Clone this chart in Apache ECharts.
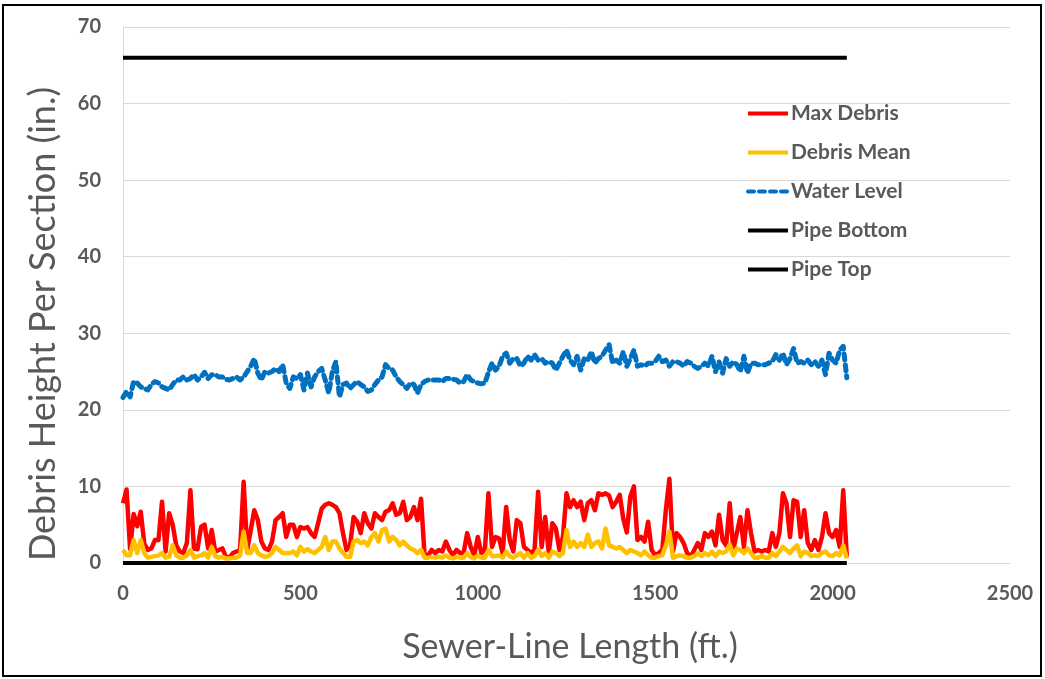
<!DOCTYPE html>
<html>
<head>
<meta charset="utf-8">
<script src="https://cdn.jsdelivr.net/npm/echarts@6.0.0/dist/echarts.min.js"></script>
<style>
html,body{margin:0;padding:0;background:#fff;}
#chart{width:1045px;height:679px;}
</style>
</head>
<body>
<div id="chart"></div>
<script>
// Sewer-line length (ft.) sample positions
const distanceFt = [
0,10,20,30,40,50,60,70,80,90,100,110,120,130,140,150,160,170,180,190,
200,210,220,230,240,250,260,270,280,290,300,310,320,330,340,350,360,370,380,390,
400,410,420,430,440,450,460,470,480,490,500,510,520,530,540,550,560,570,580,590,
600,610,620,630,640,650,660,670,680,690,700,710,720,730,740,750,760,770,780,790,
800,810,820,830,840,850,860,870,880,890,900,910,920,930,940,950,960,970,980,990,
1000,1010,1020,1030,1040,1050,1060,1070,1080,1090,1100,1110,1120,1130,1140,1150,1160,1170,1180,1190,
1200,1210,1220,1230,1240,1250,1260,1270,1280,1290,1300,1310,1320,1330,1340,1350,1360,1370,1380,1390,
1400,1410,1420,1430,1440,1450,1460,1470,1480,1490,1500,1510,1520,1530,1540,1550,1560,1570,1580,1590,
1600,1610,1620,1630,1640,1650,1660,1670,1680,1690,1700,1710,1720,1730,1740,1750,1760,1770,1780,1790,
1800,1810,1820,1830,1840,1850,1860,1870,1880,1890,1900,1910,1920,1930,1940,1950,1960,1970,1980,1990,
2000,2010,2020,2030,2040
];

const maxDebris = [
7.8,9.6,1.8,6.4,4.8,6.7,2.5,1.7,1.9,3.0,3.0,8.0,1.5,6.5,5.0,2.3,1.5,1.3,2.6,9.5,
1.9,1.8,4.7,5.0,1.9,4.3,1.5,1.7,1.9,0.8,0.7,1.3,1.5,1.7,10.6,1.7,4.3,6.9,5.6,2.8,
1.9,1.7,2.8,5.6,6.0,6.5,3.4,5.0,5.0,3.4,4.7,4.5,4.7,3.9,3.4,5.2,7.1,7.6,7.8,7.6,
7.3,6.5,3.9,1.7,2.3,6.0,5.4,3.9,6.5,5.2,4.5,6.5,6.0,5.6,6.7,6.9,7.8,6.3,6.5,8.0,
5.6,6.0,7.3,5.6,8.4,0.9,1.0,1.7,1.3,1.7,1.5,2.8,1.7,1.0,1.7,1.3,1.3,3.9,2.1,1.0,
3.4,1.3,1.7,9.1,2.1,3.4,3.2,1.3,7.3,3.0,1.5,5.6,5.2,2.1,1.7,1.3,1.7,9.3,2.1,6.0,
1.3,5.2,4.5,1.7,3.4,9.1,7.3,8.2,7.3,8.0,5.6,7.8,8.2,6.9,9.1,8.9,9.1,8.8,7.3,8.0,
8.9,5.8,4.0,8.7,10.0,3.0,3.4,2.8,5.4,1.7,1.0,1.3,1.7,6.9,11.0,1.5,3.9,3.4,2.6,1.3,
0.8,1.7,2.6,1.7,3.9,3.4,4.1,2.3,6.3,3.0,2.3,7.8,1.7,3.9,6.0,2.1,6.9,3.9,1.5,1.7,
1.5,1.7,1.5,3.9,2.1,3.9,9.1,7.8,3.4,8.2,8.0,3.4,6.9,2.6,1.7,3.0,1.7,3.4,6.5,3.9,
3.4,4.3,2.1,9.5,0.8
];

const debrisMean = [
1.7,1.0,1.0,3.0,1.3,3.0,1.3,0.7,0.8,0.9,1.0,1.3,0.7,0.8,2.3,1.0,0.7,0.7,1.0,1.7,
0.7,0.9,1.0,1.3,0.7,2.1,0.9,0.7,0.8,0.6,0.6,0.7,0.7,1.0,4.1,1.3,1.3,2.3,1.3,1.0,
0.8,0.9,1.3,2.1,1.7,1.3,1.3,1.3,1.5,1.0,2.1,1.5,1.8,1.5,1.3,1.7,2.1,3.4,1.7,2.8,
2.8,1.9,1.3,0.8,0.8,2.8,3.0,2.6,2.8,2.3,3.4,3.9,2.8,4.3,4.5,2.8,3.4,3.0,2.3,2.8,
2.3,1.9,1.7,1.3,1.7,0.7,0.7,0.8,0.7,0.8,0.7,1.0,0.7,0.6,0.8,0.7,0.7,1.3,0.8,0.6,
1.0,0.7,0.7,1.7,0.9,0.9,1.0,0.7,1.5,0.9,0.7,1.0,1.3,0.7,1.3,0.7,0.9,1.7,0.9,1.3,
0.7,1.5,1.3,0.9,1.3,4.3,2.1,2.8,2.1,2.6,2.1,3.7,2.1,2.6,2.8,1.9,4.5,2.3,2.1,1.9,
2.1,1.7,1.3,1.7,1.5,1.3,1.0,1.5,1.0,0.7,0.7,0.9,1.0,2.3,4.1,0.7,0.9,1.0,0.9,0.7,
0.7,0.9,1.3,0.9,1.3,1.0,1.5,0.9,1.5,1.3,1.5,2.4,1.0,1.9,1.7,1.3,1.9,1.3,0.7,0.7,
0.9,0.7,0.7,1.3,0.9,1.5,2.1,1.7,1.3,1.9,2.3,0.9,1.5,1.3,0.9,1.0,0.9,1.3,1.5,1.0,
0.9,1.3,1.0,2.3,0.6
];

const waterLevel = [
21.6,22.4,21.7,23.7,23.5,23.0,22.8,22.6,23.3,23.7,23.5,23.0,22.8,22.6,23.3,23.9,23.9,24.3,23.9,24.1,
24.6,23.9,24.3,24.9,24.1,24.6,24.6,24.3,24.3,24.0,23.9,24.1,24.3,23.9,24.3,25.0,25.7,26.7,24.8,23.9,
25.0,24.8,25.0,25.4,25.0,25.9,23.5,22.8,24.3,24.1,24.6,22.6,24.8,23.0,24.3,25.0,25.4,23.9,22.2,25.0,
26.3,21.7,23.3,23.5,22.8,23.3,23.7,23.3,23.0,22.4,22.6,23.3,23.9,24.3,25.9,25.4,25.2,24.3,23.7,23.3,
22.8,23.5,23.3,22.2,23.3,23.7,23.9,23.9,23.9,23.9,23.7,24.1,24.1,24.0,23.9,23.5,23.7,24.6,23.9,23.7,
23.5,23.4,23.5,24.9,26.1,25.2,25.7,27.0,27.4,26.1,26.7,26.7,25.7,26.1,27.0,26.5,27.2,26.5,26.7,26.1,
26.3,26.1,25.2,26.1,27.0,27.8,26.5,25.9,27.0,25.2,26.7,26.5,27.6,26.1,26.7,27.0,27.8,28.5,26.1,26.5,
26.1,27.6,25.7,26.7,27.8,25.7,25.9,25.7,26.1,26.1,26.3,27.0,26.3,26.5,25.7,26.3,26.3,26.1,25.7,26.3,
26.1,25.7,25.4,25.7,26.1,25.7,27.0,25.0,26.3,24.8,26.7,25.7,26.3,25.9,25.0,27.0,24.8,26.1,26.1,25.9,
25.9,25.9,26.1,26.3,27.2,26.5,27.4,25.9,26.7,28.0,26.1,26.3,26.1,26.5,25.9,26.3,25.7,26.5,24.6,27.4,
26.5,26.1,27.8,28.3,24.2
];

const pipeExtentFt = [0, 2040];
const pipeBottom = [0, 0];
const pipeTop = [66, 66];

const xTicks = [0, 500, 1000, 1500, 2000, 2500];
const yTicks = [0, 10, 20, 30, 40, 50, 60, 70];

function pairs(xs, ys) { return xs.map((x, i) => [x, ys[i]]); }

const FONT = 'Lato, "Open Sans", sans-serif';
const chart = echarts.init(document.getElementById('chart'), null, {renderer: 'canvas'});
const labelFont = {fontFamily: FONT, fontWeight: 'bold', fontSize: 20, color: '#595959'};

chart.setOption({
  animation: false,
  backgroundColor: '#ffffff',
  grid: {left: 123, right: 35, top: 27, bottom: 116, containLabel: false},
  xAxis: {
    type: 'value',
    min: xTicks[0], max: xTicks[xTicks.length - 1], interval: 500,
    axisLine: {show: true, lineStyle: {color: '#D9D9D9', width: 1}},
    axisTick: {show: false},
    splitLine: {show: false},
    axisLabel: Object.assign({margin: 21, formatter: v => String(v)}, labelFont)
  },
  yAxis: {
    type: 'value',
    min: yTicks[0], max: yTicks[yTicks.length - 1], interval: 10,
    axisLine: {show: true, lineStyle: {color: '#D9D9D9', width: 1}},
    axisTick: {show: false},
    splitLine: {show: true, lineStyle: {color: '#D9D9D9', width: 1}},
    axisLabel: Object.assign({margin: 22, formatter: v => String(v)}, labelFont)
  },
  legend: {
    orient: 'vertical',
    left: 746, top: 103,
    padding: 0,
    itemWidth: 40, itemHeight: 14, itemGap: 18,
    itemStyle: {color: 'rgba(0,0,0,0)', borderColor: 'rgba(0,0,0,0)', borderWidth: 0, opacity: 0},
    lineStyle: {width: 4},
    textStyle: {fontFamily: FONT, fontWeight: 'bold', fontSize: 21, color: '#595959', padding: [0, 0, 0, -2]},
    data: ['Max Debris', 'Debris Mean', 'Water Level', 'Pipe Bottom', 'Pipe Top']
  },
  series: [
    {name: 'Max Debris', type: 'line', symbol: 'none', data: pairs(distanceFt, maxDebris),
     lineStyle: {color: '#FF0000', width: 4.5, join: 'round'}, itemStyle: {color: '#FF0000'}, z: 2},
    {name: 'Debris Mean', type: 'line', symbol: 'none', data: pairs(distanceFt, debrisMean),
     lineStyle: {color: '#FFC000', width: 4.5, join: 'round'}, itemStyle: {color: '#FFC000'}, z: 3},
    {name: 'Water Level', type: 'line', symbol: 'none', data: pairs(distanceFt, waterLevel),
     lineStyle: {color: '#0070C0', width: 5, type: [6, 5], cap: 'round', join: 'round'}, itemStyle: {color: '#0070C0'}, z: 4},
    {name: 'Pipe Bottom', type: 'line', symbol: 'none', data: pairs(pipeExtentFt, pipeBottom),
     lineStyle: {color: '#000000', width: 4}, itemStyle: {color: '#000000'}, z: 5},
    {name: 'Pipe Top', type: 'line', symbol: 'none', data: pairs(pipeExtentFt, pipeTop),
     lineStyle: {color: '#000000', width: 4}, itemStyle: {color: '#000000'}, z: 5}
  ],
  graphic: [
    {type: 'rect', shape: {x: 3, y: 5, width: 1038, height: 671}, style: {fill: 'none', stroke: '#000', lineWidth: 2}, silent: true},
    {type: 'text', x: 43, y: 324, rotation: Math.PI / 2,
     style: {text: 'Debris Height Per Section (in.)', fontFamily: FONT, fontSize: 36, fill: '#595959', align: 'center', verticalAlign: 'middle'}},
    {type: 'text', x: 570, y: 647,
     style: {text: 'Sewer-Line Length (ft.)', fontFamily: FONT, fontSize: 34, fill: '#595959', align: 'center', verticalAlign: 'middle'}}
  ]
});
</script>
</body>
</html>
